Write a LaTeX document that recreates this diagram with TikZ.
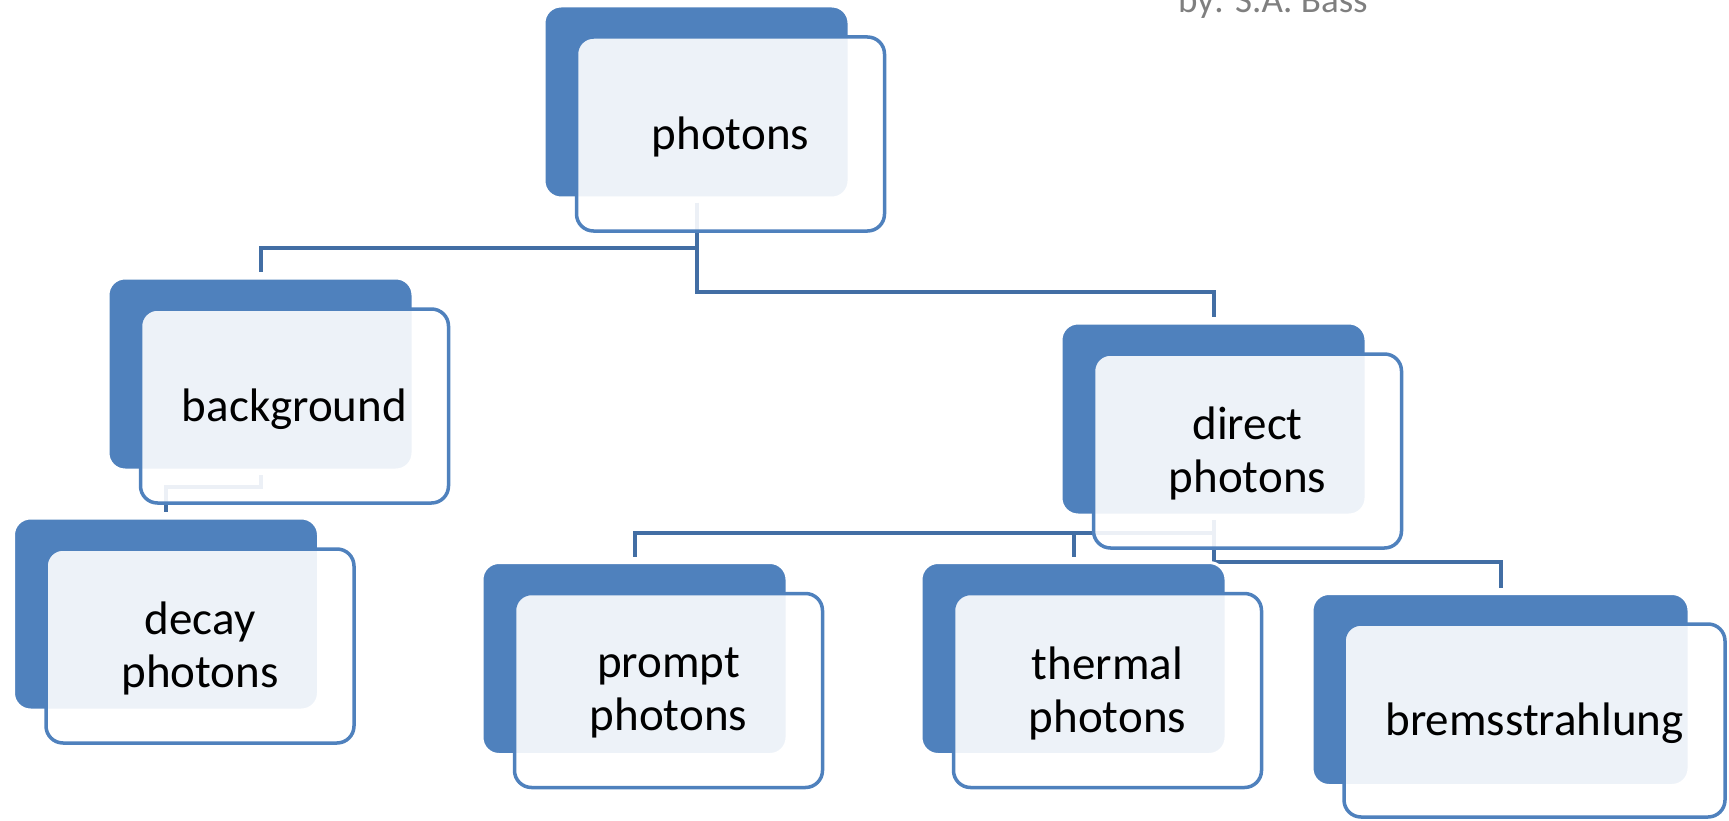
\documentclass[tikz,border=0pt]{standalone}
\usepackage{fontspec}
\setmainfont{Carlito}
\usepackage{tikz}
\usetikzlibrary{backgrounds}
\definecolor{TreeBlue}{HTML}{4F81BD}
\definecolor{TreeLink}{HTML}{426EA4}
\definecolor{TreeGrey}{HTML}{7F7F7F}

\begin{document}
\begin{tikzpicture}[x=1pt, y=-1pt, every node/.style={align=center, outer sep=0pt, inner sep=0pt, font=\fontsize{47}{53}\selectfont},
  backbox/.style={fill=TreeBlue, draw=white, line width=3pt, rounded corners=17pt, minimum width=#1, minimum height=192pt},
  backbox/.default=305pt,
  frontbox/.style={fill=white, fill opacity=0.9, text opacity=1, draw=TreeBlue, line width=3.5pt, rounded corners=17pt, minimum width=#1, minimum height=194pt, text depth=2pt},
  frontbox/.default=308pt,
  link/.style={draw=TreeLink, line width=4pt, shorten <=5pt, shorten >=6pt}]
  \useasboundingbox (0,0) rectangle (1729,821);

  % solid back cards
  \node[backbox] (photons-back) at (696.5,102) {};
  \node[backbox] (background-back) at (260.5,374) {};
  \node[backbox] (direct-back) at (1213.5,419) {};
  \node[backbox] (decay-back) at (166,614) {};
  \node[backbox] (prompt-back) at (634.5,658.5) {};
  \node[backbox] (thermal-back) at (1073.5,658.5) {};
  \node[backbox=377pt] (brems-back) at (1500.5,689.5) {};

  % light cards with the labels
  \node[frontbox] (photons) at ([shift={(34,32)}]photons-back.center) {photons};
  \node[frontbox] (background) at ([shift={(34,32)}]background-back.center) {background};
  \node[frontbox] (direct) at ([shift={(34,32)}]direct-back.center) {direct\\photons};
  \node[frontbox] (decay) at ([shift={(34,32)}]decay-back.center) {decay\\photons};
  \node[frontbox] (prompt) at ([shift={(34,32)}]prompt-back.center) {prompt\\photons};
  \node[frontbox] (thermal) at ([shift={(34,32)}]thermal-back.center) {thermal\\photons};
  \node[frontbox=381pt, minimum height=193pt] (brems) at ([shift={(34,31)}]brems-back.center) {bremsstrahlung};

  \node[anchor=base west, text=TreeGrey, font=\fontsize{37}{44}\selectfont] (credit) at (1178,13) {by: S.A. Bass};

  % tree links go under the cards
  \begin{pgfonlayer}{background}
    \draw[link] (photons-back.south) -- ++(0,50) -| (background-back.north);
    \draw[link] (photons-back.south) -- ++(0,94) -| (direct-back.north);
    \draw[link] (background-back.south) -- ++(0,17) -| (decay-back.north);
    \draw[link] (direct-back.south) -- ++(0,18) -| (prompt-back.north);
    \draw[link] (direct-back.south) -- ++(0,18) -| (thermal-back.north);
    \draw[link] (direct-back.south) -- ++(0,47) -| (brems-back.north);
  \end{pgfonlayer}
\end{tikzpicture}
\end{document}
